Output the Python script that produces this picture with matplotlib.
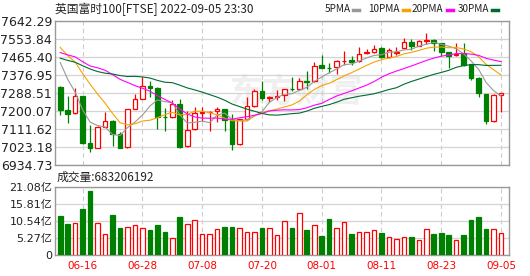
import numpy as np
import pandas as pd
import matplotlib
matplotlib.use('Agg')
import matplotlib.pyplot as plt
from matplotlib.lines import Line2D

plt.rcParams['font.family'] = ['DejaVu Sans', 'Noto Sans CJK SC']

# trading days shown (mm-dd, 2022)
dates = ['06-13', '06-14', '06-15', '06-16', '06-17', '06-20', '06-21', '06-22', '06-23', '06-24',
         '06-27', '06-28', '06-29', '06-30', '07-01', '07-04', '07-05', '07-06', '07-07', '07-08',
         '07-11', '07-12', '07-13', '07-14', '07-15', '07-18', '07-19', '07-20', '07-21', '07-22',
         '07-25', '07-26', '07-27', '07-28', '07-29', '08-01', '08-02', '08-03', '08-04', '08-05',
         '08-08', '08-09', '08-10', '08-11', '08-12', '08-15', '08-16', '08-17', '08-18', '08-19',
         '08-22', '08-23', '08-24', '08-25', '08-26', '08-30', '08-31', '09-01', '09-02', '09-05']

opens = [7317, 7206, 7188, 7273, 7045, 7018, 7122, 7152, 7089, 7021,
         7212, 7260, 7322, 7314, 7173, 7170, 7234, 7026, 7110, 7192,
         7193, 7200, 7210, 7156, 7040, 7159, 7224, 7296, 7265, 7271,
         7277, 7308, 7307, 7348, 7347, 7424, 7413, 7415, 7446, 7451,
         7446, 7484, 7492, 7511, 7467, 7487, 7512, 7537, 7520, 7546,
         7550, 7533, 7488, 7476, 7484, 7431, 7363, 7284, 7150, 7281]
highs = [7322, 7275, 7312, 7274, 7131, 7125, 7196, 7154, 7096, 7211,
         7284, 7366, 7346, 7316, 7214, 7255, 7258, 7201, 7219, 7219,
         7201, 7219, 7212, 7184, 7162, 7268, 7307, 7346, 7272, 7305,
         7310, 7366, 7362, 7397, 7440, 7475, 7437, 7452, 7495, 7471,
         7516, 7503, 7526, 7514, 7508, 7513, 7560, 7552, 7548, 7582,
         7555, 7535, 7490, 7536, 7533, 7433, 7365, 7286, 7282, 7290]
lows = [7178, 7140, 7186, 7039, 6997, 7016, 7120, 7029, 7018, 7019,
        7209, 7258, 7268, 7111, 7104, 7168, 7018, 7024, 7107, 7152,
        7100, 7148, 7103, 7007, 7035, 7157, 7222, 7255, 7242, 7255,
        7248, 7300, 7305, 7309, 7345, 7410, 7385, 7380, 7425, 7427,
        7440, 7480, 7485, 7462, 7462, 7475, 7510, 7500, 7518, 7530,
        7497, 7470, 7413, 7472, 7420, 7353, 7267, 7136, 7148, 7194]
closes = [7206, 7187, 7273, 7045, 7016, 7122, 7152, 7089, 7020, 7209,
          7258, 7323, 7312, 7169, 7169, 7233, 7025, 7108, 7189, 7196,
          7197, 7210, 7156, 7040, 7159, 7223, 7296, 7264, 7271, 7276,
          7306, 7306, 7348, 7345, 7423, 7413, 7409, 7446, 7448, 7440,
          7482, 7488, 7507, 7466, 7501, 7491, 7537, 7521, 7542, 7550,
          7536, 7492, 7472, 7480, 7424, 7361, 7288, 7149, 7280, 7287]
# volume in 亿 shares
volumes = [12.0, 9.55, 9.76, 14.17, 19.7, 9.76, 6.37, 12.3, 8.3, 8.5,
           9.1, 8.2, 7.7, 9.24, 7.1, 5.1, 11.7, 9.45, 10.7, 6.37,
           6.37, 8.0, 8.6, 8.6, 8.2, 7.0, 7.0, 8.3, 8.3, 6.06,
           10.5, 8.3, 12.8, 7.7, 9.1, 5.85, 11.1, 8.2, 10.1, 6.5,
           7.0, 7.0, 7.6, 6.8, 5.4, 4.8, 5.4, 5.5, 4.6, 7.9,
           6.5, 6.8, 6.2, 4.5, 6.2, 10.8, 11.7, 8.0, 7.9, 6.83]
# closes before the window, needed for the moving averages
prior_closes = [7509.19, 7544.55, 7561.33, 7493.45, 7503.27, 7387.94, 7216.58, 7243.22, 7347.66, 7233.34,
                7418.15, 7464.80, 7518.35, 7438.09, 7302.74, 7389.98, 7513.44, 7484.35, 7522.75, 7564.92,
                7585.46, 7600.06, 7607.66, 7532.95, 7608.22, 7598.93, 7593.00, 7476.21, 7317.52]

label_dates = ['06-16', '06-28', '07-08', '07-20', '08-01', '08-11', '08-23', '09-05']
price_ticks = [6934.73, 7023.18, 7111.62, 7200.07, 7288.51, 7376.95, 7465.40, 7553.84, 7642.29]
vol_ticks = [0, 5.27, 10.54, 15.81, 21.08]
ma_names = ['5PMA', '10PMA', '20PMA', '30PMA']
ma_windows = [5, 10, 20, 30]
ma_colors = ['#999999', '#f5a300', '#ff00ff', '#006b2e']

title = '英国富时100[FTSE] 2022-09-05 23:30'
vol_title = '成交量:683206192'

RED = '#ff0000'
GREEN = '#008000'
GRID = '#d4d4d4'
FRAME = '#999999'
TXT = '#222222'

o = np.array(opens, float)
h = np.array(highs, float)
l = np.array(lows, float)
c = np.array(closes, float)
v = np.array(volumes, float)
x = np.arange(len(c))
up = c >= o
cols = np.where(up, RED, GREEN)
fills = np.where(up, 'white', GREEN)
tick_pos = [dates.index(d) for d in label_dates]

fig = plt.figure(figsize=(5.3, 2.76), dpi=100)
W, H = 530.0, 276.0
ax = fig.add_axes([55 / W, 1 - 165 / H, 454 / W, 144 / H])
axv = fig.add_axes([55 / W, 1 - 255 / H, 454 / W, 68.5 / H])

for a in (ax, axv):
    a.set_xlim(-0.7, 60.07)
    a.set_xticks(tick_pos)
    a.tick_params(length=0, colors=TXT)
    for s in a.spines.values():
        s.set_color(FRAME)
        s.set_linewidth(1.0)
    a.set_axisbelow(True)
    a.grid(axis='y', color=GRID, lw=0.9, ls='-')
    a.grid(axis='x', color='#cccccc', lw=0.8, ls=(0, (4, 3)))

# watermark
ax.text(0.53, 0.5, '东方财富', transform=ax.transAxes, fontsize=24, fontweight='bold',
        color='#efefef', ha='center', va='center', family=['Noto Sans CJK SC'], zorder=0)

# candles
ax.vlines(x, l, h, colors=cols, lw=0.9, zorder=2)
body = np.maximum(np.abs(c - o), 1.0)
ax.bar(x, body, bottom=np.minimum(o, c), width=0.62, color=fills, edgecolor=cols,
       linewidth=0.9, zorder=3)

# moving averages
allc = pd.Series(prior_closes + closes, dtype=float)
for n, col in zip(ma_windows, ma_colors):
    ma = allc.rolling(n).mean().to_numpy()[len(prior_closes):]
    ax.plot(x, ma, color=col, lw=0.8, zorder=4)

ax.set_ylim(price_ticks[0], price_ticks[-1])
ax.set_yticks(price_ticks)
ax.set_yticklabels(['%.2f' % t for t in price_ticks], fontsize=9)
ax.tick_params(axis='y', pad=2)
ax.set_xticklabels([])

# volume
axv.bar(x, v, width=0.62, color=fills, edgecolor=cols, linewidth=0.9, zorder=3)
axv.set_ylim(0, vol_ticks[-1])
axv.set_yticks(vol_ticks)
axv.set_yticklabels(['0' if t == 0 else '%.2f亿' % t for t in vol_ticks], fontsize=8)
axv.tick_params(axis='y', pad=2)
axv.set_xticklabels(label_dates, fontsize=7.5, color=RED)
axv.tick_params(axis='x', pad=4, labelcolor=RED)

# header texts
fig.text(55 / W, 1 - 9 / H, title, fontsize=8.5, color=TXT, va='center',
         family=['Noto Sans CJK SC', 'DejaVu Sans'])
fig.text(57 / W, 1 - 177 / H, vol_title, fontsize=8.5, color=TXT, va='center',
         family=['Noto Sans CJK SC', 'DejaVu Sans'])

# MA legend: label then a short colour dash
leg_x = [325, 368, 412, 458]
dash_x = [353, 403, 447, 492]
for name, col, lx, dx in zip(ma_names, ma_colors, leg_x, dash_x):
    fig.text(lx / W, 1 - 9 / H, name, fontsize=7.2, color=TXT, va='center',
             family=['Noto Sans CJK SC', 'DejaVu Sans'])
    fig.add_artist(Line2D([dx / W, (dx + 6) / W], [1 - 9.5 / H, 1 - 9.5 / H],
                          transform=fig.transFigure, color=col, lw=2.5))

fig.savefig('out.png', dpi=100)
